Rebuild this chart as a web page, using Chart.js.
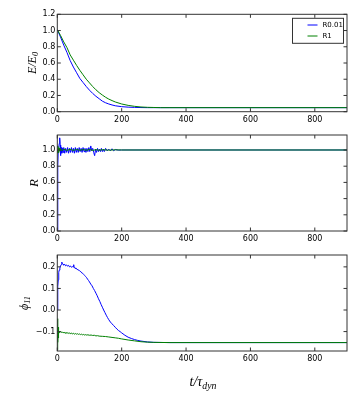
<!DOCTYPE html>
<html>
<head>
<meta charset="utf-8">
<script src="https://cdn.jsdelivr.net/npm/chart.js@4/dist/chart.umd.min.js"></script>
<style>
  body { margin: 0; background: #fff; }
  #wrap { position: relative; width: 360px; height: 408px; overflow: hidden; }
  .panel { position: absolute; left: 0; width: 360px; }
  .lbl { position: absolute; white-space: nowrap; line-height: 1; color: #000;
         font-family: "Liberation Serif", "DejaVu Serif", serif; font-style: italic;
         transform: translate(-50%, -50%) rotate(-90deg); }
  .lbl sub { font-size: 70%; vertical-align: -0.3em; }
  .xl { transform: translate(-50%, -50%); }
</style>
</head>
<body>
<div id="wrap">
  <div class="panel" style="top:0;height:132px"><canvas id="pE"></canvas></div>
  <div class="panel" style="top:121px;height:130px"><canvas id="pR"></canvas></div>
  <div class="panel" style="top:241px;height:130px"><canvas id="pPhi"></canvas></div>
  <div class="lbl" style="left:33px;top:63px;font-size:12px">E/E<sub>0</sub></div>
  <div class="lbl" style="left:33px;top:183px;font-size:13px">R</div>
  <div class="lbl" style="left:25px;top:303px;font-size:12px">ϕ<sub>11</sub></div>
  <div class="lbl xl" style="left:203px;top:383px;font-size:14px">t/τ<sub>dyn</sub></div>
</div>
<script>
// series labels
var seriesNames = ['R0.01', 'R1'];
var xTicks = [0, 200, 400, 600, 800];

// energy E/E0
var tE = [0, 10, 20, 30, 40, 50, 60, 70, 80, 90, 100, 110, 120, 130, 140, 150, 160, 170, 180, 200, 220, 240, 260, 280, 300, 320, 350, 400, 900];
var eR001 = [1.01, 0.92, 0.82, 0.73, 0.63, 0.55, 0.48, 0.41, 0.36, 0.31, 0.265, 0.225, 0.19, 0.16, 0.13, 0.11, 0.095, 0.083, 0.073, 0.062, 0.056, 0.053, 0.051, 0.05, 0.05, 0.05, 0.05, 0.05, 0.05];
var eR1 = [1.01, 0.94, 0.86, 0.79, 0.70, 0.635, 0.57, 0.51, 0.455, 0.40, 0.355, 0.31, 0.27, 0.235, 0.205, 0.178, 0.155, 0.137, 0.12, 0.095, 0.078, 0.066, 0.058, 0.054, 0.052, 0.05, 0.05, 0.05, 0.05];

// R
var tR001 = [0, 1, 2, 3, 4, 5, 6, 7, 8, 9, 10, 11, 12, 14, 16, 18, 20, 23, 26, 29, 32, 35, 38, 41, 44, 47, 50, 53, 56, 59, 62, 65, 68, 71, 74, 77, 80, 83, 86, 89, 92, 95, 98, 101, 104, 107, 110, 113, 116, 119, 122, 125, 128, 131, 134, 137, 140, 143, 146, 150, 155, 160, 165, 170, 175, 180, 190, 200, 900];
var rR001 = [0.0, 0.35, 0.8, 1.0, 0.97, 1.03, 1.08, 1.12, 1.15, 1.06, 0.93, 0.97, 1.03, 0.96, 1.02, 0.97, 1.03, 0.96, 1.02, 0.97, 1.03, 0.96, 1.02, 0.97, 1.03, 0.97, 1.02, 0.96, 1.03, 0.97, 1.02, 0.97, 1.03, 0.98, 1.02, 0.97, 1.03, 0.98, 1.02, 0.97, 1.02, 0.98, 1.03, 0.98, 1.05, 0.99, 1.02, 0.97, 0.93, 1.01, 0.97, 1.02, 0.98, 1.01, 0.98, 1.02, 0.98, 1.01, 0.98, 1.02, 0.99, 1.01, 0.99, 1.015, 0.99, 1.005, 0.998, 1.0, 1.0];
var tR1 = [0, 1, 2, 3, 4, 5, 6, 8, 10, 15, 20, 30, 40, 50, 60, 70, 80, 90, 100, 110, 120, 130, 140, 160, 180, 200, 900];
var rR1 = [1.0, 0.96, 1.05, 0.97, 1.03, 0.98, 1.02, 0.99, 1.015, 0.99, 1.01, 0.995, 1.008, 0.995, 1.006, 0.996, 1.005, 0.996, 1.006, 0.995, 1.004, 0.997, 1.003, 0.998, 1.002, 1.0, 1.0];

// phi_11
var tP001 = [0, 1, 2, 3, 4, 5, 6, 8, 10, 12, 14, 16, 18, 20, 23, 26, 29, 32, 35, 38, 41, 44, 47, 50, 51, 52, 55, 58, 61, 64, 67, 70, 73, 76, 79, 82, 85, 88, 91, 94, 97, 100, 104, 108, 112, 116, 120, 124, 128, 132, 136, 140, 144, 148, 152, 156, 160, 165, 170, 175, 180, 185, 190, 195, 200, 210, 220, 230, 240, 250, 260, 280, 300, 350, 900];
var pR001 = [0.0, 0.06, 0.11, 0.14, 0.16, 0.175, 0.185, 0.195, 0.205, 0.21, 0.222, 0.215, 0.212, 0.208, 0.212, 0.205, 0.209, 0.203, 0.207, 0.2, 0.204, 0.198, 0.201, 0.2, 0.21, 0.197, 0.195, 0.192, 0.19, 0.186, 0.185, 0.18, 0.178, 0.172, 0.17, 0.165, 0.16, 0.155, 0.15, 0.143, 0.137, 0.13, 0.12, 0.112, 0.1, 0.09, 0.078, 0.066, 0.052, 0.04, 0.026, 0.013, 0.0, -0.012, -0.024, -0.035, -0.045, -0.056, -0.064, -0.072, -0.08, -0.088, -0.095, -0.1, -0.106, -0.117, -0.126, -0.132, -0.137, -0.141, -0.144, -0.148, -0.15, -0.151, -0.151];
var tP1 = [0, 0.5, 1, 1.5, 2, 2.5, 3, 3.5, 4, 5, 6, 7, 8, 10, 12, 15, 18, 21, 24, 27, 30, 33, 36, 39, 42, 45, 48, 51, 54, 57, 60, 63, 66, 69, 72, 75, 78, 81, 84, 87, 90, 95, 100, 105, 110, 115, 120, 125, 130, 140, 150, 160, 170, 180, 190, 200, 220, 240, 260, 280, 300, 350, 900];
var pR1 = [-0.185, -0.04, -0.17, -0.06, -0.15, -0.08, -0.13, -0.09, -0.12, -0.095, -0.105, -0.098, -0.103, -0.1, -0.104, -0.101, -0.106, -0.103, -0.107, -0.104, -0.108, -0.105, -0.109, -0.106, -0.11, -0.107, -0.111, -0.108, -0.112, -0.109, -0.112, -0.11, -0.113, -0.111, -0.114, -0.112, -0.115, -0.113, -0.116, -0.114, -0.116, -0.115, -0.117, -0.116, -0.118, -0.117, -0.12, -0.119, -0.121, -0.122, -0.123, -0.125, -0.127, -0.129, -0.131, -0.134, -0.139, -0.143, -0.147, -0.149, -0.15, -0.151, -0.151];

var BLUE = '#0000ff';
var GREEN = '#008000';

function pts(t, v) {
    return t.map(function (x, i) { return {x: x, y: v[i]}; });
}

function fmt(v) {
    var s = Math.abs(v).toFixed(1);
    return v < -1e-9 ? '\u2212' + s : s;
}

// matplotlib-like frame with inward ticks on all four sides
var frameTicks = {
    id: 'frameTicks',
    afterDatasetsDraw: function (chart) {
        var ctx = chart.ctx, a = chart.chartArea, x = chart.scales.x, y = chart.scales.y;
        var len = 3.5;
        ctx.save();
        ctx.strokeStyle = '#333';
        ctx.lineWidth = 1;
        ctx.beginPath();
        x.ticks.forEach(function (t) {
            var px = x.getPixelForValue(t.value);
            ctx.moveTo(px, a.bottom); ctx.lineTo(px, a.bottom - len);
            ctx.moveTo(px, a.top); ctx.lineTo(px, a.top + len);
        });
        y.ticks.forEach(function (t) {
            var py = y.getPixelForValue(t.value);
            ctx.moveTo(a.left, py); ctx.lineTo(a.left + len, py);
            ctx.moveTo(a.right, py); ctx.lineTo(a.right - len, py);
        });
        ctx.stroke();
        ctx.strokeRect(a.left, a.top, a.right - a.left, a.bottom - a.top);
        ctx.restore();
    }
};

var boxLegend = {
    id: 'boxLegend',
    afterDraw: function (chart) {
        var ctx = chart.ctx, a = chart.chartArea;
        var w = 51, h = 25, bx = a.right - 3.5 - w, by = a.top + 4;
        ctx.save();
        ctx.fillStyle = '#fff';
        ctx.fillRect(bx, by, w, h);
        ctx.strokeStyle = '#333';
        ctx.lineWidth = 1;
        ctx.strokeRect(bx, by, w, h);
        ctx.font = '7px "DejaVu Sans"';
        ctx.textBaseline = 'middle';
        ctx.fillStyle = '#000';
        chart.data.datasets.forEach(function (ds, i) {
            var ly = by + 6.7 + i * 11;
            ctx.strokeStyle = ds.borderColor;
            ctx.beginPath();
            ctx.moveTo(bx + 15, ly); ctx.lineTo(bx + 25, ly);
            ctx.stroke();
            ctx.fillText(ds.label, bx + 30, ly);
        });
        ctx.restore();
    }
};

function makePanel(id, blue, green, yMin, yMax, yStep, topPad, xHeight, extra) {
    return new Chart(document.getElementById(id), {
        type: 'line',
        data: {
            datasets: [
                {label: seriesNames[0], data: blue, borderColor: BLUE, borderWidth: 1, order: 1},
                {label: seriesNames[1], data: green, borderColor: GREEN, borderWidth: 1, order: 0}
            ]
        },
        options: {
            responsive: true,
            maintainAspectRatio: false,
            animation: false,
            layout: {padding: {left: 0, right: 13, top: topPad, bottom: 0}},
            elements: {point: {radius: 0}, line: {tension: 0}},
            plugins: {legend: {display: false}, tooltip: {enabled: false}},
            scales: {
                x: {
                    type: 'linear', min: 0, max: 900,
                    grid: {display: false, drawTicks: false}, border: {display: false},
                    afterFit: function (s) { s.height = xHeight; },
                    afterBuildTicks: function (s) { s.ticks = xTicks.map(function (v) { return {value: v}; }); },
                    ticks: {color: '#000', padding: 3, maxRotation: 0,
                            font: {family: 'DejaVu Sans', size: 8},
                            callback: function (v) { return String(v); }}
                },
                y: {
                    type: 'linear', min: yMin, max: yMax,
                    grid: {display: false, drawTicks: false}, border: {display: false},
                    afterFit: function (s) { s.width = 57.3; },
                    ticks: {color: '#000', padding: 2, stepSize: yStep, includeBounds: false,
                            font: {family: 'DejaVu Sans', size: 8},
                            callback: function (v) { return fmt(v); }}
                }
            }
        },
        plugins: extra ? [frameTicks, extra] : [frameTicks]
    });
}

makePanel('pE', pts(tE, eR001), pts(tE, eR1), 0, 1.2, 0.2, 14.3, 20.3, boxLegend);
makePanel('pR', pts(tR001, rR001), pts(tR1, rR1), 0, 1.185, 0.2, 14, 20);
makePanel('pPhi', pts(tP001, pR001), pts(tP1, pR1), -0.19, 0.255, 0.1, 14, 20);
</script>
</body>
</html>
